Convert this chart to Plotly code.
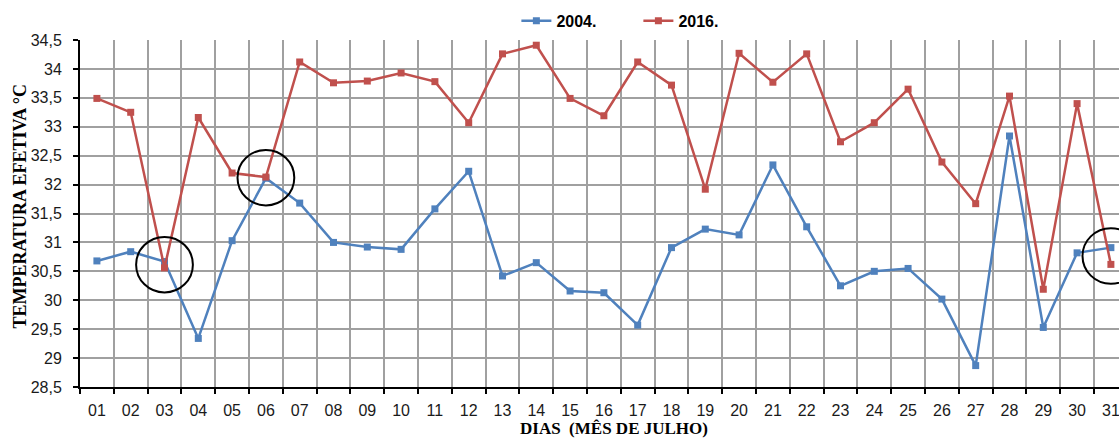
import plotly.graph_objects as go

days = ["01", "02", "03", "04", "05", "06", "07", "08", "09", "10",
        "11", "12", "13", "14", "15", "16", "17", "18", "19", "20",
        "21", "22", "23", "24", "25", "26", "27", "28", "29", "30", "31"]

temp_2004 = [30.68, 30.84, 30.67, 29.34, 31.03, 32.11, 31.68, 31.00, 30.92, 30.88,
             31.58, 32.23, 30.42, 30.65, 30.16, 30.13, 29.57, 30.91, 31.23, 31.13,
             32.34, 31.27, 30.25, 30.50, 30.55, 30.02, 28.87, 32.84, 29.53, 30.82, 30.91]

temp_2016 = [33.49, 33.25, 30.56, 33.16, 32.20, 32.13, 34.12, 33.76, 33.79, 33.93,
             33.78, 33.07, 34.26, 34.41, 33.49, 33.19, 34.12, 33.72, 31.92, 34.27,
             33.77, 34.26, 32.74, 33.07, 33.65, 32.39, 31.67, 33.53, 30.19, 33.40, 30.62]

y_tickvals = [28.5, 29, 29.5, 30, 30.5, 31, 31.5, 32, 32.5, 33, 33.5, 34, 34.5]
y_ticktext = ["28,5", "29", "29,5", "30", "30,5", "31", "31,5", "32", "32,5", "33", "33,5", "34", "34,5"]

highlight_days = ["03", "06", "31"]

BLUE = "#4F81BD"
RED = "#C0504D"
GRID = "#A0A0A0"
SANS = "Liberation Sans, Arial, sans-serif"
SERIF = "Liberation Serif, Times New Roman, serif"

fig = go.Figure()
fig.add_trace(go.Scatter(
    x=days, y=temp_2004, name="2004.", mode="lines+markers",
    line=dict(color=BLUE, width=2.5),
    marker=dict(symbol="square", size=7, color=BLUE),
))
fig.add_trace(go.Scatter(
    x=days, y=temp_2016, name="2016.", mode="lines+markers",
    line=dict(color=RED, width=2.5),
    marker=dict(symbol="square", size=7, color=RED),
))

# circles around highlighted days, centred between the two series
for d in highlight_days:
    i = days.index(d)
    c = (temp_2004[i] + temp_2016[i]) / 2
    fig.add_shape(type="circle", xref="x", yref="y",
                  x0=i - 0.84, x1=i + 0.84, y0=c - 0.48, y1=c + 0.48,
                  line=dict(color="black", width=2))

fig.update_layout(
    width=1119, height=438,
    margin=dict(l=80, r=0, t=40, b=51, autoexpand=False),
    paper_bgcolor="white", plot_bgcolor="white",
    showlegend=True,
    legend=dict(orientation="h", x=0.42, xanchor="left", y=1.055, yanchor="middle",
                font=dict(family=SANS, size=16, color="black", weight="bold"),
                itemwidth=30, entrywidth=77, entrywidthmode="pixels",
                bgcolor="rgba(0,0,0,0)"),
    annotations=[
        dict(text="<b>TEMPERATURA EFETIVA °C</b>", textangle=-90,
             xref="paper", yref="paper", x=-0.0577, y=0.52,
             xanchor="center", yanchor="middle", showarrow=False,
             font=dict(family=SERIF, size=18, color="black")),
        dict(text="<b>DIAS  (MÊS DE JULHO)</b>",
             xref="paper", yref="paper", x=0.514, y=-0.12,
             xanchor="center", yanchor="middle", showarrow=False,
             font=dict(family=SERIF, size=17, color="black")),
    ],
)

fig.update_xaxes(
    type="category", categoryorder="array", categoryarray=days,
    range=[-0.5, 30.24],
    tickson="boundaries", ticks="outside", ticklen=5, tickwidth=2, tickcolor="black",
    showline=True, linewidth=2, linecolor="black",
    showgrid=True, gridcolor=GRID, gridwidth=1.5,
    tickfont=dict(family=SANS, size=16, color="#1a1a1a"),
    ticklabelstandoff=8,
)
fig.update_yaxes(
    range=[28.5, 34.5], tickvals=y_tickvals, ticktext=y_ticktext,
    ticks="outside", ticklen=5, tickwidth=2, tickcolor="black",
    showline=True, linewidth=2, linecolor="black",
    showgrid=True, gridcolor=GRID, gridwidth=1.5, zeroline=False,
    tickfont=dict(family=SANS, size=16, color="#1a1a1a"),
    ticklabelstandoff=8,
)

fig.write_html("out.html",
               config={"displayModeBar": False},
               post_script="document.body.style.margin='0';document.body.style.overflow='hidden';")
